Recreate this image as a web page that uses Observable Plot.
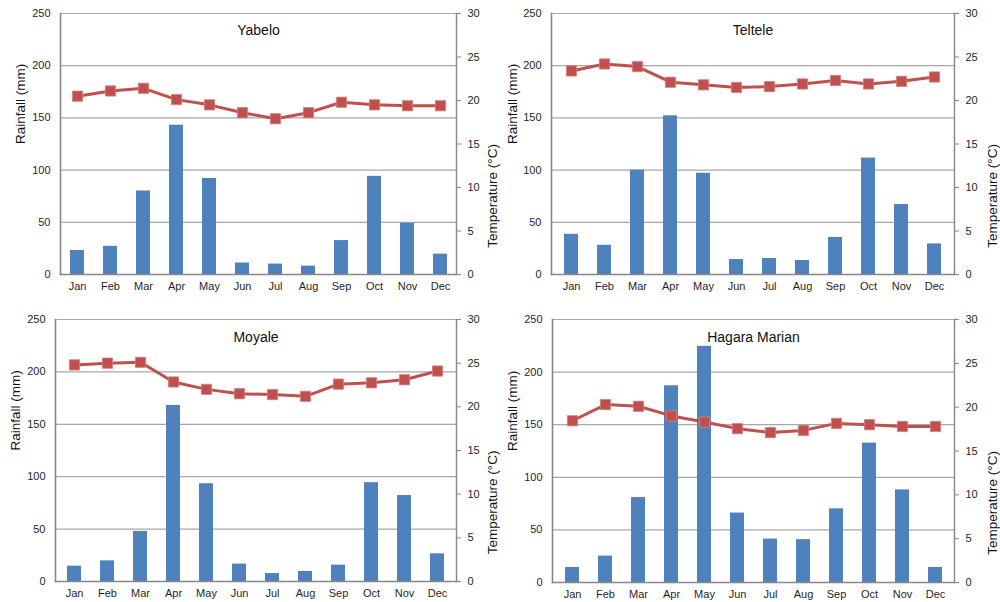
<!DOCTYPE html>
<html>
<head>
<meta charset="utf-8">
<script src="https://cdn.jsdelivr.net/npm/d3@7"></script>
<script src="https://cdn.jsdelivr.net/npm/@observablehq/plot@0.6"></script>
<style>
  html, body { margin: 0; padding: 0; background: #fff; }
  #wrap { position: relative; width: 1000px; height: 602px; overflow: hidden; }
  .panel { position: absolute; overflow: hidden; background: #fff; }
</style>
</head>
<body>
<div id="wrap"></div>
<script>
const months = ["Jan","Feb","Mar","Apr","May","Jun","Jul","Aug","Sep","Oct","Nov","Dec"];
const rainTicks = [0, 50, 100, 150, 200, 250];
const tempTicks = [0, 5, 10, 15, 20, 25, 30];

const stations = ["Yabelo", "Teltele", "Moyale", "Hagara Marian"];

const yabeloRain = [23, 27, 80, 143, 92, 11, 10, 8, 32.5, 94, 49, 19.5];
const yabeloTemp = [20.5, 21.1, 21.4, 20.1, 19.5, 18.6, 17.9, 18.6, 19.8, 19.5, 19.4, 19.4];

const telteleRain = [38.5, 28, 100, 152, 97, 14.3, 15.3, 13.4, 35.5, 111.5, 67, 29.3];
const telteleTemp = [23.4, 24.2, 23.9, 22.1, 21.8, 21.5, 21.6, 21.9, 22.3, 21.9, 22.2, 22.7];

const moyaleRain = [14.6, 19.7, 47.8, 168, 93.3, 16.6, 7.6, 9.6, 15.6, 94.3, 82, 26.4];
const moyaleTemp = [24.8, 25.0, 25.1, 22.85, 22.0, 21.5, 21.4, 21.2, 22.6, 22.75, 23.1, 24.1];

const hagaraRain = [14.3, 25.1, 80.7, 187, 224.5, 66, 41.3, 40.7, 70, 132.5, 88, 14.3];
const hagaraTemp = [18.45, 20.3, 20.1, 19.0, 18.3, 17.55, 17.1, 17.35, 18.15, 18.0, 17.8, 17.8];

const rainSeries = [yabeloRain, telteleRain, moyaleRain, hagaraRain];
const tempSeries = [yabeloTemp, telteleTemp, moyaleTemp, hagaraTemp];

const layouts = [
  {left: 0,   top: 0,   w: 500, h: 301, mL: 60, mR: 44, mT: 13, mB: 27, rainX: 20,   tempX: 492, titleDy: 12},
  {left: 500, top: 0,   w: 500, h: 301, mL: 51, mR: 46, mT: 13, mB: 27, rainX: 12.5, tempX: 492, titleDy: 12},
  {left: 0,   top: 300, w: 500, h: 302, mL: 55, mR: 44, mT: 19, mB: 21, rainX: 15,   tempX: 492, titleDy: 13},
  {left: 500, top: 300, w: 500, h: 302, mL: 52, mR: 46, mT: 19, mB: 20, rainX: 12,   tempX: 492, titleDy: 13}
];

const rainMax = 250, tempMax = 30;
const toRain = t => t * rainMax / tempMax;

const wrap = document.getElementById("wrap");
const font = "'Liberation Sans', Arial, sans-serif";
const gridColor = "#a8a8a8";
const axisColor = "#878787";

stations.forEach((name, i) => {
  const L = layouts[i];
  const data = months.map((m, j) => ({month: m, rain: rainSeries[i][j], temp: tempSeries[i][j]}));
  const chart = Plot.plot({
    width: L.w,
    height: L.h,
    marginLeft: L.mL,
    marginRight: L.mR,
    marginTop: L.mT,
    marginBottom: L.mB,
    style: {fontFamily: font, fontSize: "11px", color: "#1f1f1f", background: "#fff", overflow: "visible"},
    x: {domain: months, paddingInner: 0.58, paddingOuter: 0.29, axis: null},
    y: {domain: [0, rainMax], axis: null},
    marks: [
      Plot.ruleY(rainTicks.filter(v => v > 0), {stroke: gridColor, strokeWidth: 1.2}),
      Plot.barY(data, {x: "month", y: "rain", fill: "#4F81BD"}),
      Plot.frame({anchor: "left", stroke: axisColor, strokeWidth: 1.6}),
      Plot.frame({anchor: "right", stroke: axisColor, strokeWidth: 1.4}),
      Plot.frame({anchor: "bottom", stroke: axisColor, strokeWidth: 1.6}),
      Plot.axisY({anchor: "left", ticks: rainTicks, tickSize: 0, tickPadding: 10, label: null, fontSize: 11}),
      Plot.axisY({anchor: "right", ticks: tempTicks.map(toRain), tickFormat: v => String(Math.round(v * tempMax / rainMax)),
                  tickSize: 4, tickPadding: 7, stroke: axisColor, label: null, fontSize: 11}),
      Plot.axisX({anchor: "bottom", tickSize: 0, tickPadding: 8, label: null, fontSize: 11}),
      Plot.line(data, {x: "month", y: d => toRain(d.temp), stroke: "#C0504D", strokeWidth: 3}),
      Plot.dot(data, {x: "month", y: d => toRain(d.temp), symbol: "square", r: 5.8, fill: "#C0504D", stroke: "#D3817F", strokeWidth: 0.8}),
      Plot.text([name], {frameAnchor: "top", dy: L.titleDy, text: d => d, fontSize: 14, fill: "#111"}),
      Plot.text(["Rainfall (mm)"], {frameAnchor: "left", dx: L.rainX - L.mL, rotate: -90, text: d => d, fontSize: 13.5, fill: "#111"}),
      Plot.text(["Temperature (°C)"], {frameAnchor: "right", dx: L.tempX - (L.w - L.mR), rotate: -90, text: d => d, fontSize: 13.5, fill: "#111"})
    ]
  });
  const div = document.createElement("div");
  div.className = "panel";
  div.style.left = L.left + "px";
  div.style.top = L.top + "px";
  div.style.width = L.w + "px";
  div.style.height = L.h + "px";
  div.appendChild(chart);
  wrap.appendChild(div);
});
</script>
</body>
</html>
